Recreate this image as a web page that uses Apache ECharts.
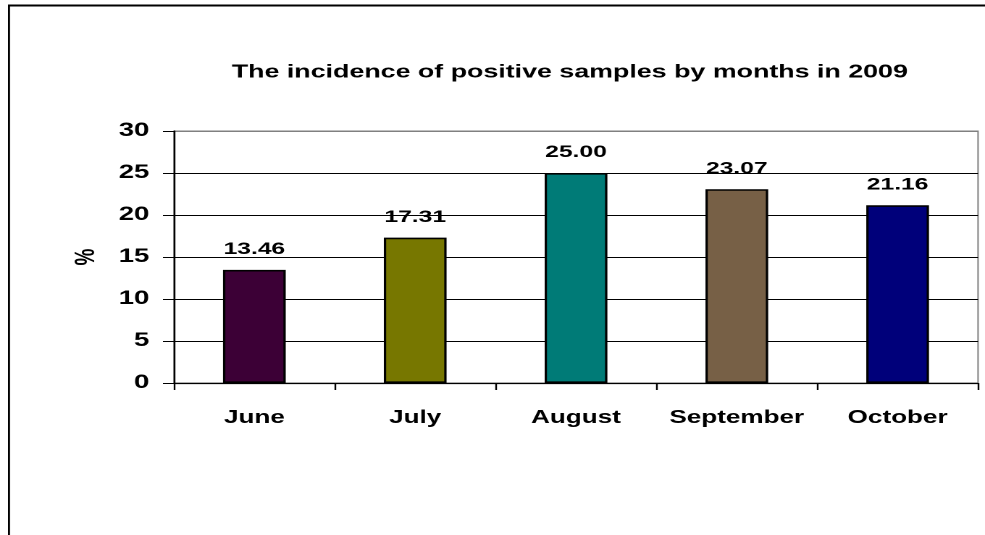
<!DOCTYPE html>
<html>
<head>
<meta charset="utf-8">
<script src="https://cdn.jsdelivr.net/npm/echarts@6/dist/echarts.min.js"></script>
<style>
  html, body { margin: 0; padding: 0; background: #fff; overflow: hidden; }
  /* The chart is laid out on a narrower canvas and widened horizontally,
     which gives the broad, stretched lettering of the original figure. */
  #chart {
    width: 680px; height: 535px;
    transform: scaleX(1.4485); transform-origin: 0 0;
  }
</style>
</head>
<body>
<div id="chart"></div>
<script>
// Monthly incidence of positive samples, 2009 (%)
const months = ['June', 'July', 'August', 'September', 'October'];
const incidence = [13.46, 17.31, 25.00, 23.07, 21.16];
const barColors = ['#3c0036', '#777700', '#007b77', '#776046', '#00007a'];
const yTicks = { min: 0, max: 30, step: 5 };
const chartTitle = 'The incidence of positive samples by months in 2009';
const yAxisTitle = '%';

const FONT = '"Liberation Sans", Arial, sans-serif';

const chart = echarts.init(document.getElementById('chart'), null, {
  renderer: 'canvas', devicePixelRatio: 2
});

// one grid line per tick; the top one is part of the grey plot frame
const tickCount = (yTicks.max - yTicks.min) / yTicks.step + 1;
const gridLineColors = [];
for (let i = 0; i < tickCount; i++) {
  gridLineColors.push(i === tickCount - 1 ? '#808080' : '#000000');
}

chart.setOption({
  animation: false,
  backgroundColor: '#ffffff',
  title: {
    text: chartTitle,
    left: 160,
    top: 63,
    padding: 0,
    textStyle: { fontFamily: FONT, fontWeight: 'bold', fontSize: 18.5, color: '#000' }
  },
  graphic: [
    { type: 'line', silent: true, z: 100,
      shape: { x1: 5.5, y1: 5.5, x2: 700, y2: 5.5 },
      style: { stroke: '#000', lineWidth: 2 } },
    { type: 'line', silent: true, z: 100,
      shape: { x1: 6.2, y1: 4.5, x2: 6.2, y2: 600 },
      style: { stroke: '#000', lineWidth: 1.4 } }
  ],
  grid: {
    left: 120.1, right: 4.8, top: 131, bottom: 152,
    show: true, borderColor: '#808080', borderWidth: 1, backgroundColor: 'transparent'
  },
  xAxis: {
    type: 'category',
    data: months,
    boundaryGap: true,
    axisLine: { show: true, lineStyle: { color: '#000', width: 1.2 } },
    axisTick: { show: true, inside: false, length: 7, lineStyle: { color: '#000', width: 1.2 } },
    axisLabel: {
      margin: 26, color: '#000', fontFamily: FONT, fontWeight: 'bold', fontSize: 18,
      interval: 0
    },
    splitLine: { show: false }
  },
  yAxis: {
    type: 'value',
    min: yTicks.min, max: yTicks.max, interval: yTicks.step,
    name: yAxisTitle,
    nameLocation: 'middle',
    nameRotate: 90,
    nameGap: 51,
    nameTextStyle: { color: '#000', fontFamily: FONT, fontWeight: 'bold', fontSize: 19 },
    axisLine: { show: true, lineStyle: { color: '#000', width: 1.2 } },
    axisTick: { show: true, inside: false, length: 7.6, lineStyle: { color: '#000', width: 1 } },
    axisLabel: {
      margin: 17, color: '#000', fontFamily: FONT, fontWeight: 'bold', fontSize: 19
    },
    splitLine: { show: true, lineStyle: { color: gridLineColors, width: 1 } }
  },
  series: [{
    type: 'bar',
    barWidth: '39%',
    data: incidence.map((v, i) => ({
      value: v,
      itemStyle: { color: barColors[i] }
    })),
    itemStyle: { borderColor: '#000', borderWidth: 1.6 },
    label: {
      show: true,
      position: 'top',
      distance: 12,
      formatter: p => p.value.toFixed(2),
      color: '#000', fontFamily: FONT, fontWeight: 'bold', fontSize: 17
    }
  }]
});
</script>
</body>
</html>
